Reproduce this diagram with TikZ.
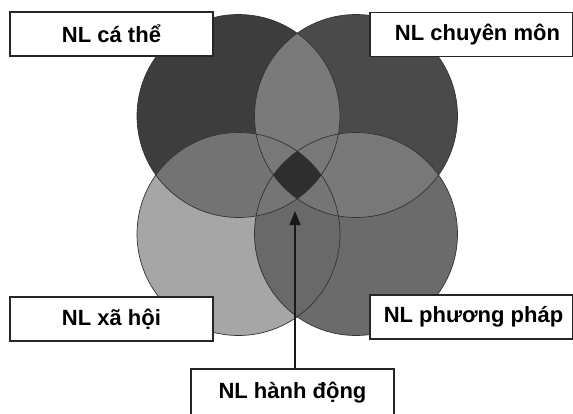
\documentclass[tikz,border=0pt]{standalone}
\usepackage{fontspec}
\setmainfont{Liberation Sans}
\usetikzlibrary{arrows.meta}
\begin{document}
\begin{tikzpicture}[x=1pt,y=-1pt,
  lbl/.style={draw=black!85,line width=1.3pt,fill=white,inner sep=0pt,
    minimum width=203pt,minimum height=44pt,
    font=\fontsize{22}{26}\selectfont\bfseries},
  ring/.style={draw=black!80,line width=0.7pt}]
\useasboundingbox (0,0) rectangle (573,413);
\def\R{101.5}
\coordinate (TL) at (238.5,116);
\coordinate (TR) at (356,116);
\coordinate (BL) at (238.5,234);
\coordinate (BR) at (356,234);
% base fills
\fill[black!76] (TL) circle (\R);
\fill[black!71] (TR) circle (\R);
\fill[black!35] (BL) circle (\R);
\fill[black!58] (BR) circle (\R);
% pair lenses
\begin{scope}\clip (TL) circle (\R); \fill[black!52] (TR) circle (\R); \end{scope}
\begin{scope}\clip (TL) circle (\R); \fill[black!55] (BL) circle (\R); \end{scope}
\begin{scope}\clip (TR) circle (\R); \fill[black!53] (BR) circle (\R); \end{scope}
\begin{scope}\clip (BL) circle (\R); \fill[black!59] (BR) circle (\R); \end{scope}
\begin{scope}\clip (TL) circle (\R); \fill[black!54] (BR) circle (\R); \end{scope}
\begin{scope}\clip (TR) circle (\R); \fill[black!54] (BL) circle (\R); \end{scope}
% triple regions
\begin{scope}\clip (TL) circle (\R); \clip (TR) circle (\R); \fill[black!53] (BL) circle (\R); \end{scope}
\begin{scope}\clip (TL) circle (\R); \clip (TR) circle (\R); \fill[black!53] (BR) circle (\R); \end{scope}
\begin{scope}\clip (BL) circle (\R); \clip (BR) circle (\R); \fill[black!54] (TL) circle (\R); \end{scope}
\begin{scope}\clip (BL) circle (\R); \clip (BR) circle (\R); \fill[black!54] (TR) circle (\R); \end{scope}
% quadruple
\begin{scope}\clip (TL) circle (\R); \clip (TR) circle (\R); \clip (BL) circle (\R); \fill[black!82] (BR) circle (\R); \end{scope}
% outlines
\draw[ring] (TL) circle (\R);
\draw[ring] (TR) circle (\R);
\draw[ring] (BL) circle (\R);
\draw[ring] (BR) circle (\R);
% labels
\node[lbl] (ca) at (111.5,34) {NL cá thể};
\node[lbl] (cm) at (471.5,34.5) {\hspace*{12pt}NL chuyên môn};
\node[lbl] (xh) at (111.5,319) {NL xã hội};
\node[lbl] (pp) at (471.5,317) {\hspace*{4pt}NL phương pháp};
\node[lbl,minimum height=48pt] (hd) at (292.5,393) {\raisebox{2pt}{NL hành động}};
\coordinate (tip) at (295,211);
\draw[line width=1.6pt,black!90,-{Triangle[length=14pt,width=11pt]}] (tip |- hd.north) -- (tip);
\end{tikzpicture}
\end{document}
